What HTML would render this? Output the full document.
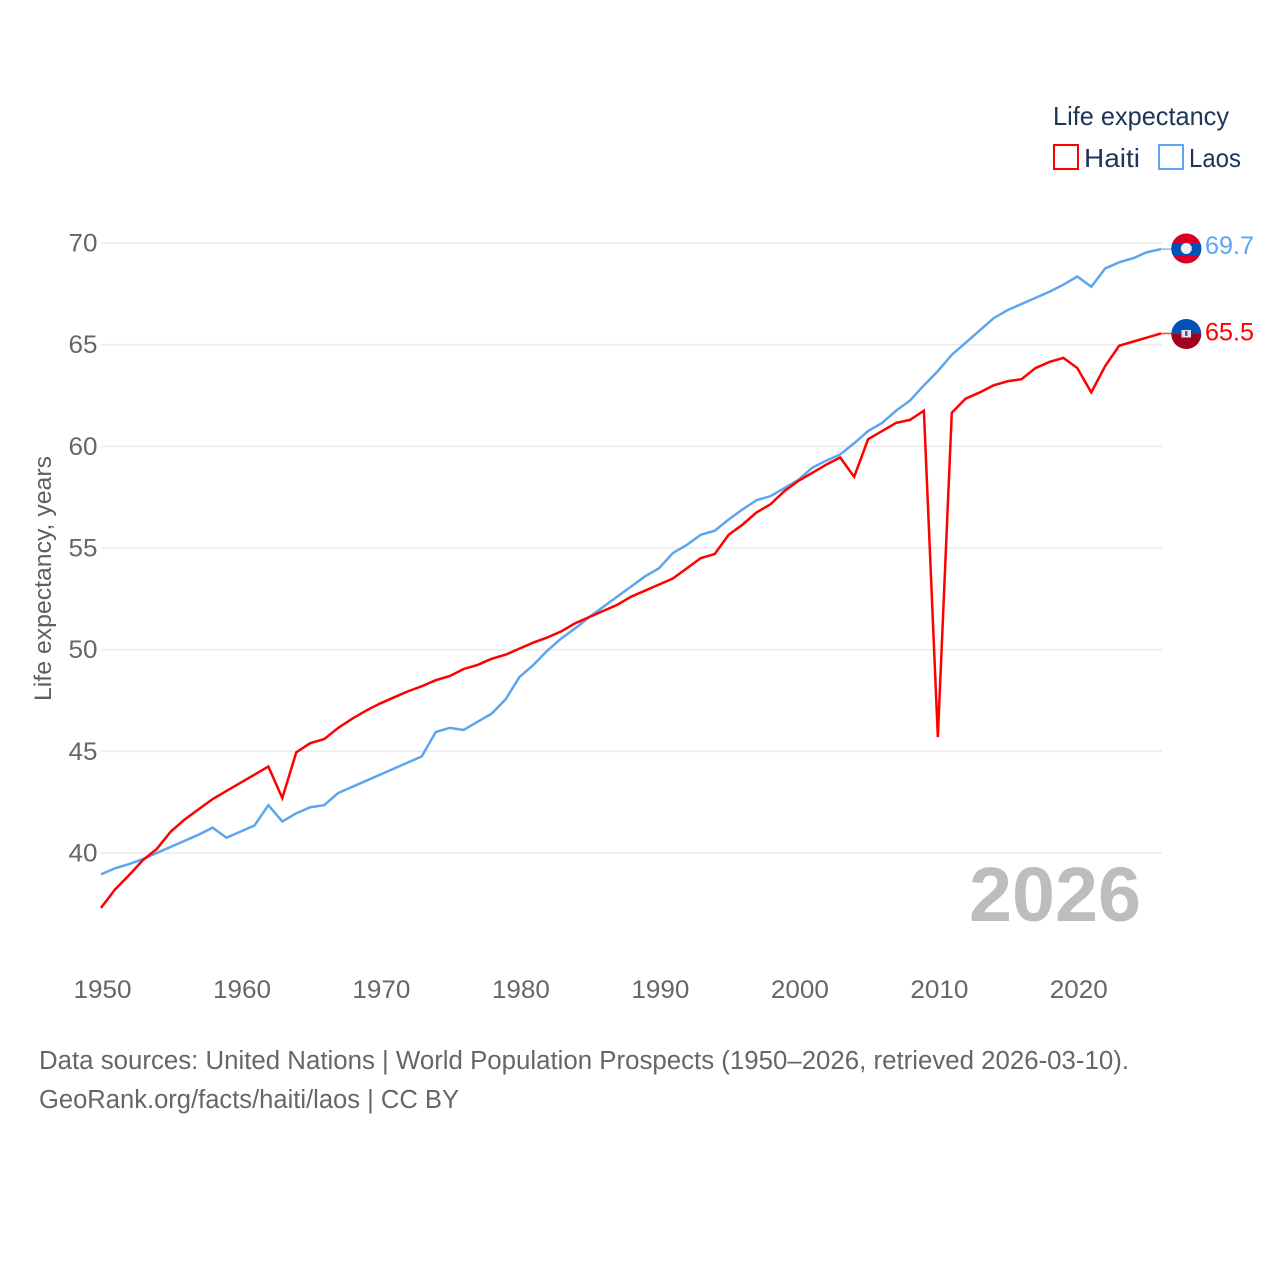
<!DOCTYPE html>
<html lang="en">
<head>
<meta charset="utf-8">
<title>Life expectancy: Haiti and Laos</title>
<style>
html,body{margin:0;padding:0;background:#fff;width:1280px;height:1280px;overflow:hidden}
svg{display:block}
text{font-family:"Liberation Sans",sans-serif}
</style>
</head>
<body>
<svg id="chart" xmlns="http://www.w3.org/2000/svg" width="1280" height="1280" viewBox="0 0 1280 1280">
  <rect x="0" y="0" width="1280" height="1280" fill="#fff"/>
  <g id="grid"></g>
  <g id="yticks"></g>
  <g id="xticks"></g>
  <text transform="translate(51,701) rotate(-90)" font-size="24.5" fill="#5f5f5f" textLength="245" lengthAdjust="spacingAndGlyphs">Life expectancy, years</text>
  <text id="year-label" x="1141" y="921" text-anchor="end" font-size="77" font-weight="700" fill="#bdbdbd" textLength="172" lengthAdjust="spacingAndGlyphs">2026</text>
  <g id="series"></g>

  <g>
    <clipPath id="laos-clip"><circle cx="1186.300" cy="248.500" r="15"/></clipPath>
    <g clip-path="url(#laos-clip)">
      <rect x="1171" y="233" width="31" height="31" fill="#d80027"/>
      <rect x="1171" y="243" width="31" height="12.800" fill="#0052b4"/>
      <circle cx="1186.300" cy="248.500" r="5.500" fill="#f0f0f0"/>
    </g>
  </g>
  <g>
    <clipPath id="haiti-clip"><circle cx="1186.300" cy="334" r="15"/></clipPath>
    <g clip-path="url(#haiti-clip)">
      <rect x="1171" y="319" width="31" height="15" fill="#0052b4"/>
      <rect x="1171" y="334" width="31" height="16" fill="#a2001d"/>
      <rect x="1181.500" y="330" width="9.500" height="7.500" fill="#e6e6e6"/>
      <rect x="1185" y="331" width="2.500" height="5" fill="#4a6488"/>
    </g>
  </g>
  <g id="end-labels"></g>

  <g>
    <text x="1053" y="125" font-size="26" fill="#1d3557" textLength="176" lengthAdjust="spacingAndGlyphs">Life expectancy</text>
    <g>
      <rect x="1054" y="145" width="24" height="24" fill="none" stroke="#ff0000" stroke-width="2"/>
      <text x="1084" y="167" font-size="26" fill="#1d3557" textLength="56" lengthAdjust="spacingAndGlyphs">Haiti</text>
    </g>
    <g>
      <rect x="1159" y="145" width="24" height="24" fill="none" stroke="#5da5ee" stroke-width="2"/>
      <text x="1189" y="167" font-size="26" fill="#1d3557" textLength="52" lengthAdjust="spacingAndGlyphs">Laos</text>
    </g>
  </g>

  <g>
    <text x="39" y="1069" font-size="25.500" fill="#666" textLength="1090" lengthAdjust="spacingAndGlyphs">Data sources: United Nations | World Population Prospects (1950–2026, retrieved 2026-03-10).</text>
    <text x="39" y="1108" font-size="25.500" fill="#666" textLength="420" lengthAdjust="spacingAndGlyphs">GeoRank.org/facts/haiti/laos | CC BY</text>
  </g>
</svg>
<script>
const firstYear = 1950;
const yTickValues = [40, 45, 50, 55, 60, 65, 70];
const xTickValues = [1950, 1960, 1970, 1980, 1990, 2000, 2010, 2020];
const haitiValues = [
  37.3, 38.2, 38.9, 39.65, 40.2, 41.05, 41.65, 42.15, 42.65, 43.05,
  43.45, 43.85, 44.25, 42.7, 44.95, 45.4, 45.6, 46.15, 46.6, 47.0,
  47.35, 47.65, 47.95, 48.2, 48.5, 48.7, 49.05, 49.25, 49.55, 49.75,
  50.05, 50.35, 50.6, 50.9, 51.3, 51.6, 51.9, 52.2, 52.6, 52.9,
  53.2, 53.5, 54.0, 54.5, 54.7, 55.65, 56.15, 56.75, 57.15, 57.8,
  58.3, 58.7, 59.1, 59.45, 58.5, 60.35, 60.75, 61.15, 61.3, 61.75,
  45.7, 61.65, 62.35, 62.65, 63.0, 63.2, 63.3, 63.85, 64.15, 64.35,
  63.85, 62.65, 63.95, 64.95, 65.15, 65.35, 65.55
];
const laosValues = [
  38.95, 39.25, 39.45, 39.7, 40.0, 40.3, 40.6, 40.9, 41.25, 40.75,
  41.05, 41.35, 42.35, 41.55, 41.95, 42.25, 42.35, 42.95, 43.25, 43.55,
  43.85, 44.15, 44.45, 44.75, 45.95, 46.15, 46.05, 46.45, 46.85, 47.55,
  48.65, 49.25, 49.95, 50.55, 51.05, 51.6, 52.1, 52.6, 53.1, 53.6,
  54.0, 54.75, 55.15, 55.65, 55.85, 56.4, 56.9, 57.35, 57.55, 57.95,
  58.35, 58.95, 59.3, 59.6, 60.15, 60.75, 61.15, 61.75, 62.25, 63.0,
  63.7, 64.5, 65.1, 65.7, 66.3, 66.7, 67.0, 67.3, 67.6, 67.95,
  68.35, 67.85, 68.75, 69.05, 69.25, 69.55, 69.7
];

const NS = 'http://www.w3.org/2000/svg';
function xScale(year) { return 101 + (year - 1950) * (1161 - 101) / 76; }
function yScale(value) { return 853 - (value - 40) * (853 - 243) / 30; }
function make(tag, attrs, parent) {
  const el = document.createElementNS(NS, tag);
  for (const k in attrs) el.setAttribute(k, attrs[k]);
  parent.appendChild(el);
  return el;
}

const grid = document.getElementById('grid');
const yticks = document.getElementById('yticks');
const xticks = document.getElementById('xticks');
const seriesGroup = document.getElementById('series');
const endLabels = document.getElementById('end-labels');

yTickValues.forEach(function (v) {
  const line = make('line', { x1: 101, x2: 1162, y1: yScale(v), y2: yScale(v), stroke: '#ececec', 'stroke-width': 1.6 }, grid);
  
  
  const label = make('text', { x: 97.5, y: yScale(v) + 8.5, 'text-anchor': 'end', 'font-size': 25, fill: '#666', textLength: 29, lengthAdjust: 'spacingAndGlyphs' }, yticks);
  label.textContent = v;
  
  
});

xTickValues.forEach(function (y) {
  const label = make('text', { x: xScale(y) + 1.5, y: 998, 'text-anchor': 'middle', 'font-size': 25, fill: '#666', textLength: 58, lengthAdjust: 'spacingAndGlyphs' }, xticks);
  label.textContent = y;
  
  
});

function drawSeries(values, color, key, labelOffset) {
  const pts = values.map(function (v, i) { return xScale(firstYear + i).toFixed(2) + ',' + yScale(v).toFixed(2); });
  const line = make('polyline', { points: pts.join(' '), fill: 'none', stroke: color, 'stroke-width': 2.5, 'stroke-linejoin': 'miter', 'stroke-miterlimit': 10 }, seriesGroup);
  
  
  const lastV = values[values.length - 1];
  const lastX = xScale(firstYear + values.length - 1);
  const lead = make('line', { x1: lastX, x2: lastX + 12, y1: yScale(lastV), y2: yScale(lastV), stroke: color, 'stroke-width': 1.6, opacity: 0.7 }, seriesGroup);
  
  
  const label = make('text', { x: 1205, y: yScale(lastV) + labelOffset, 'font-size': 25, fill: color, textLength: 49, lengthAdjust: 'spacingAndGlyphs' }, endLabels);
  label.textContent = lastV.toFixed(1);
  
  
}
drawSeries(laosValues, '#5da5ee', 'laos', 5);
drawSeries(haitiValues, '#ff0000', 'haiti', 7);
</script>
</body>
</html>
